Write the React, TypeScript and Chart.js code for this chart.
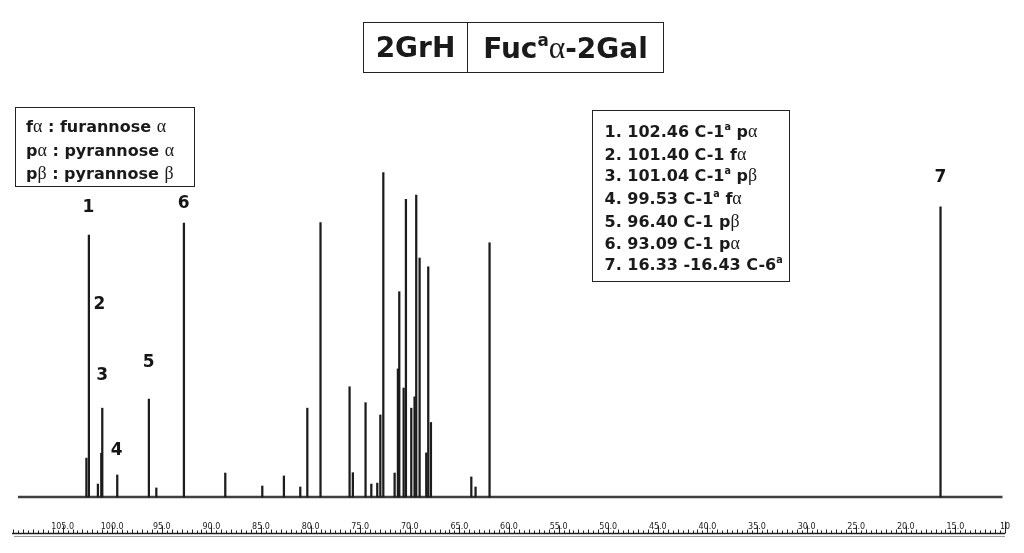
import React, { useEffect, useRef } from 'react';
import { Chart, registerables } from 'chart.js';

Chart.register(...registerables);

// ---- data (chemical shift in ppm, relative intensity) ----
const peakPpm = [
  102.6, 102.35, 101.44, 101.1, 101.0, 99.49, 96.3, 95.55, 92.77, 88.6,
  84.87, 82.69, 81.04, 80.33, 79.0, 76.07, 75.74, 74.46, 73.88, 73.28,
  72.97, 72.67, 71.53, 71.2, 71.06, 70.62, 70.39, 69.85, 69.52, 69.35,
  69.01, 68.34, 68.14, 67.87, 63.8, 63.37, 61.96, 16.5,
];
const peakIntensity = [
  12.0, 80.8, 4.0, 13.5, 27.4, 6.8, 30.2, 2.8, 84.5, 7.4,
  3.4, 6.5, 3.1, 27.4, 84.6, 34.0, 7.5, 29.1, 4.0, 4.3,
  25.3, 100, 7.4, 39.5, 63.3, 33.6, 91.8, 27.4, 30.9, 93.1,
  73.7, 13.6, 71.0, 23.0, 6.2, 3.1, 78.4, 89.5,
];
const baselinePpm = [109.5, 10.25];
const baselineValue = [0, 0];

const axisTickValues = [105, 100, 95, 90, 85, 80, 75, 70, 65, 60, 55, 50, 45, 40, 35, 30, 25, 20, 15, 10];
const axisTickLabels = ['105.0', '100.0', '95.0', '90.0', '85.0', '80.0', '75.0', '70.0', '65.0', '60.0', '55.0', '50.0', '45.0', '40.0', '35.0', '30.0', '25.0', '20.0', '15.0', '10'];

const peakLabelText = ['1', '2', '3', '4', '5', '6', '7'];
const peakLabelPpm = [102.4, 101.3, 101.0, 99.55, 96.33, 92.8, 16.5];

// ---- layout of the peak numbers (vertical placement, in intensity units) ----
const peakLabelLevel = [89.3, 59.2, 37.5, 14.4, 41.4, 90.6, 98.4];

const SANS = '"DejaVu Sans", "Liberation Sans", Arial, sans-serif';
const SERIF = '"Liberation Serif", "DejaVu Serif", serif';

const rulerPlugin = {
  id: 'ruler',
  afterDraw(chart: any) {
    const xs = chart.scales.x;
    const ctx = chart.ctx;
    const yLine = xs.top + 23.5;
    ctx.save();
    ctx.strokeStyle = '#1e1e1e';
    ctx.lineWidth = 1.4;
    ctx.beginPath();
    ctx.moveTo(xs.left, yLine);
    ctx.lineTo(xs.right, yLine);
    ctx.stroke();
    ctx.strokeStyle = '#9a9a9a';
    ctx.lineWidth = 1;
    ctx.beginPath();
    ctx.moveTo(xs.left + 2, yLine + 3);
    ctx.lineTo(xs.right, yLine + 3);
    ctx.stroke();
    ctx.strokeStyle = '#222';
    ctx.lineWidth = 1;
    const kLo = Math.ceil(xs.min * 2);
    const kHi = Math.floor(xs.max * 2);
    const majorSet = new Set(axisTickValues.map((v) => Math.round(v * 2)));
    for (let k = kLo; k <= kHi; k++) {
      const x = Math.round(xs.getPixelForValue(k / 2)) + 0.5;
      let len = 3;
      if (majorSet.has(k)) len = 8;
      else if (k % 2 === 0) len = 4;
      if (k === kLo) len = 12;
      ctx.beginPath();
      ctx.moveTo(x, yLine);
      ctx.lineTo(x, yLine - len);
      ctx.stroke();
    }
    ctx.restore();
  },
};

const peakLabelPlugin = {
  id: 'peakLabels',
  afterDatasetsDraw(chart: any) {
    const xs = chart.scales.x;
    const ys = chart.scales.y;
    const ctx = chart.ctx;
    ctx.save();
    ctx.fillStyle = '#151515';
    ctx.font = 'bold 17px ' + SANS;
    ctx.textAlign = 'center';
    ctx.textBaseline = 'middle';
    peakLabelText.forEach((t, i) => {
      ctx.fillText(t, xs.getPixelForValue(peakLabelPpm[i]), ys.getPixelForValue(peakLabelLevel[i]));
    });
    ctx.restore();
  },
};

const Greek = ({ ch }: { ch: string }) => (
  <span style={{ fontFamily: SERIF, fontWeight: 'normal', fontSize: '1.12em' }}>{ch}</span>
);
const Sup = ({ ch }: { ch: string }) => (
  <span style={{ fontSize: '0.6em', position: 'relative', top: '-0.7em' }}>{ch}</span>
);

export default function App() {
  const canvasRef = useRef<HTMLCanvasElement | null>(null);

  useEffect(() => {
    document.body.style.margin = '0';
    const canvas = canvasRef.current;
    if (!canvas) return;
    const chart = new Chart(canvas, {
      type: 'bar',
      data: {
        datasets: [
          {
            type: 'bar',
            data: peakPpm.map((x, i) => ({ x, y: peakIntensity[i] })),
            backgroundColor: '#1c1c1c',
            barThickness: 1.6,
            borderWidth: 0,
            order: 1,
          } as any,
          {
            type: 'line',
            data: baselinePpm.map((x, i) => ({ x, y: baselineValue[i] })),
            borderColor: '#404040',
            borderWidth: 2.5,
            pointRadius: 0,
            order: 2,
          } as any,
        ],
      },
      options: {
        responsive: false,
        animation: false,
        events: [],
        layout: { padding: { left: 12, right: 19, top: 150, bottom: 0 } },
        plugins: {
          legend: { display: false },
          tooltip: { enabled: false },
          title: { display: false },
        },
        scales: {
          x: {
            type: 'linear',
            reverse: true,
            min: 10,
            max: 110.1,
            offset: false,
            grid: { display: false, drawTicks: false, offset: false },
            border: { display: false },
            ticks: {
              autoSkip: false,
              maxRotation: 0,
              minRotation: 0,
              padding: 12,
              color: '#222',
              font: { family: SANS, size: 8 },
              callback: (v: any) => {
                const idx = axisTickValues.indexOf(Number(v));
                return idx >= 0 ? axisTickLabels[idx] : '';
              },
            },
            afterBuildTicks: (s: any) => {
              s.ticks = axisTickValues.map((v) => ({ value: v }));
            },
            afterFit: (s: any) => {
              s.height = 43;
            },
          },
          y: { display: false, min: -4, max: 107 },
        },
      } as any,
      plugins: [rulerPlugin, peakLabelPlugin],
    });
    return () => chart.destroy();
  }, []);

  const box: React.CSSProperties = {
    position: 'absolute',
    border: '1.5px solid #222',
    boxSizing: 'border-box',
    fontFamily: SANS,
    fontWeight: 'bold',
    color: '#1a1a1a',
    whiteSpace: 'nowrap',
  };

  return (
    <div style={{ position: 'relative', width: 1024, height: 553, background: '#fff', overflow: 'hidden' }}>
      <canvas ref={canvasRef} width={1024} height={553} style={{ position: 'absolute', left: 0, top: 0 }} />

      <div style={{ ...box, left: 363, top: 22, width: 301, height: 51, display: 'flex', fontSize: 28 }}>
        <div style={{ width: 103, borderRight: '1.5px solid #222', display: 'flex', alignItems: 'center', justifyContent: 'center' }}>
          2GrH
        </div>
        <div style={{ flex: 1, display: 'flex', alignItems: 'center', justifyContent: 'center' }}>
          <span>
            Fuc<Sup ch="a" /><Greek ch="α" />-2Gal
          </span>
        </div>
      </div>

      <div style={{ ...box, left: 15, top: 107, width: 180, height: 80, fontSize: 16, lineHeight: '22.5px', paddingLeft: 10, paddingTop: 7 }}>
        <div>f<Greek ch="α" /> : furannose <Greek ch="α" /></div>
        <div>p<Greek ch="α" /> : pyrannose <Greek ch="α" /></div>
        <div>p<Greek ch="β" /> : pyrannose <Greek ch="β" /></div>
      </div>

      <div style={{ ...box, left: 592, top: 110, width: 198, height: 172, fontSize: 16, lineHeight: '21.2px', paddingLeft: 11.5, paddingTop: 9.6 }}>
        <div>1. 102.46 C-1<Sup ch="a" /> p<Greek ch="α" /></div>
        <div>2. 101.40 C-1 f<Greek ch="α" /></div>
        <div>3. 101.04 C-1<Sup ch="a" /> p<Greek ch="β" /></div>
        <div>4. 99.53 C-1<Sup ch="a" /> f<Greek ch="α" /></div>
        <div>5. 96.40 C-1 p<Greek ch="β" /></div>
        <div>6. 93.09 C-1 p<Greek ch="α" /></div>
        <div>7. 16.33 -16.43 C-6<Sup ch="a" /></div>
      </div>
    </div>
  );
}
